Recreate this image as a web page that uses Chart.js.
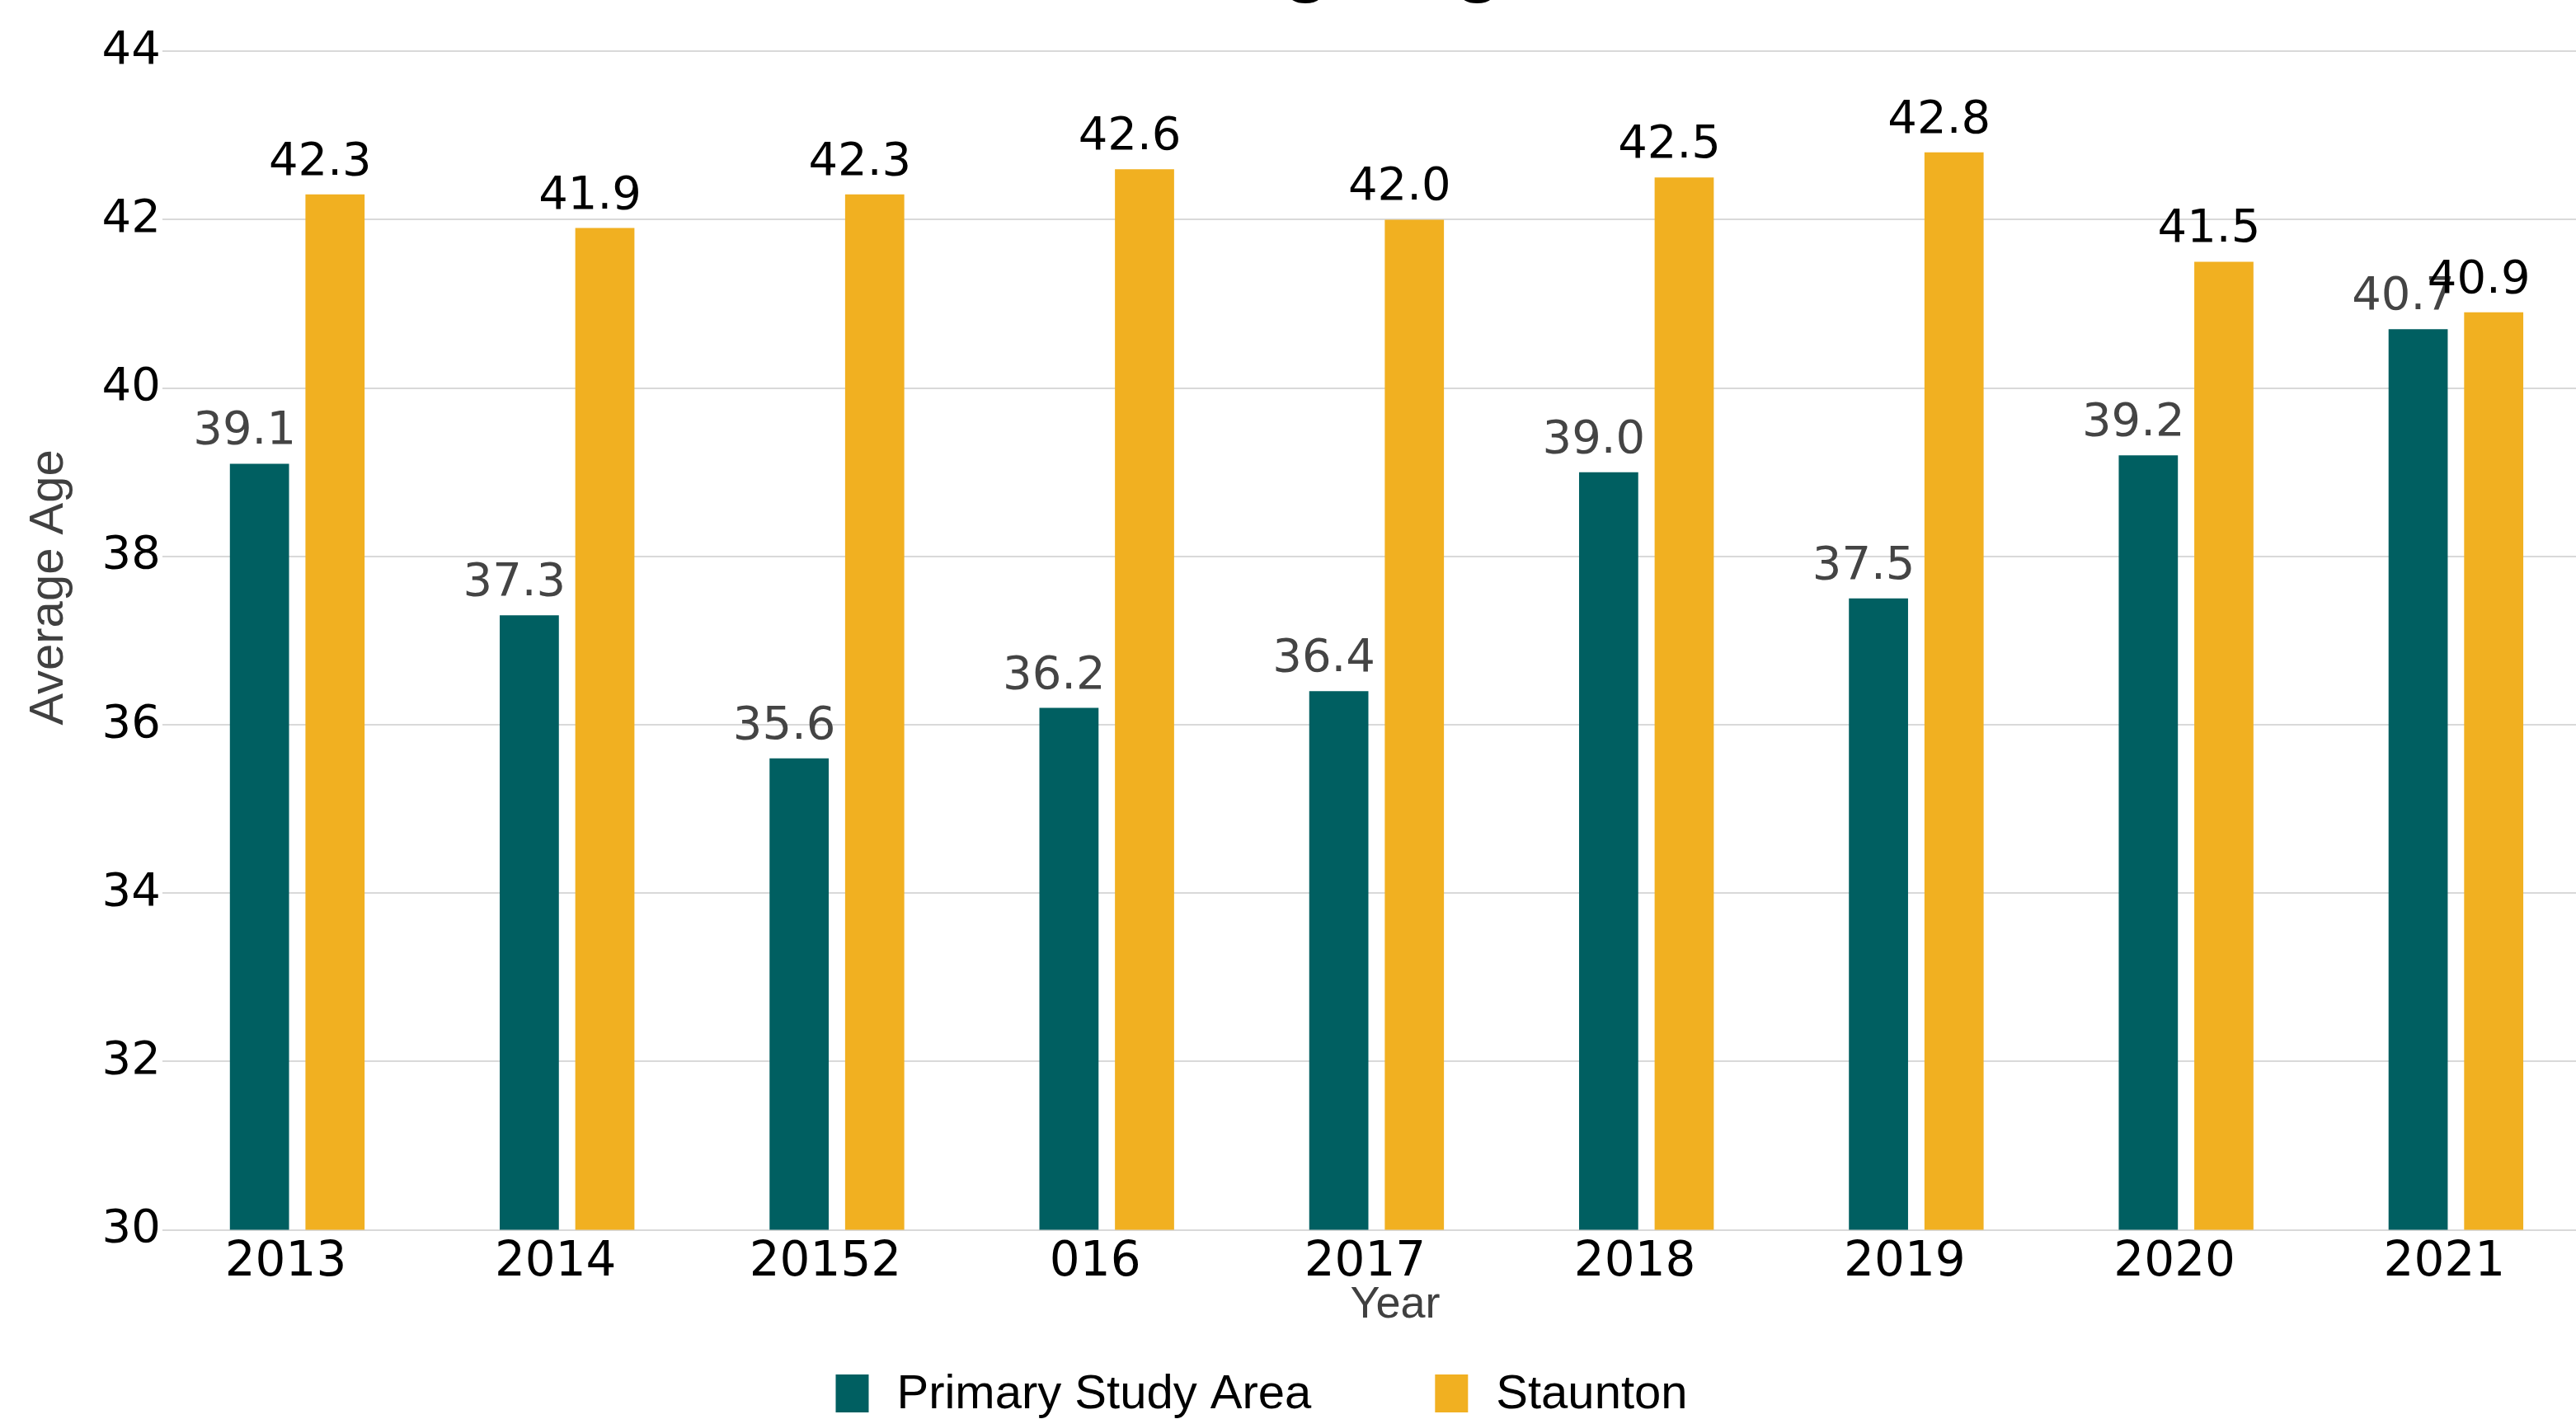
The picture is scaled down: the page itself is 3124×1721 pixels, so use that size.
<!DOCTYPE html>
<html>
<head>
<meta charset="utf-8">
<script src="https://cdn.jsdelivr.net/npm/chart.js@4"></script>
<style>
  html, body { margin: 0; padding: 0; background: #fff; overflow: hidden; }
  #wrap { position: relative; width: 3124px; height: 1721px; overflow: hidden; }
  #grafico { position: absolute; left: 0; top: -100px; }
</style>
</head>
<body>
<div id="wrap"><canvas id="grafico" width="3142" height="1821"></canvas></div>
<script>
const anos = ['2013', '2014', '20152', '016', '2017', '2018', '2019', '2020', '2021'];
const areaPrimaria = [39.1, 37.3, 35.6, 36.2, 36.4, 39.0, 37.5, 39.2, 40.7];
const staunton = [42.3, 41.9, 42.3, 42.6, 42.0, 42.5, 42.8, 41.5, 40.9];
const ticksY = [30, 32, 34, 36, 38, 40, 42, 44];

const fonteTexto = '"Liberation Sans", Arial, sans-serif';
const fonteNum = '"DejaVu Sans", sans-serif';
const corRotulo = ['#444444', '#000000'];

// rotulos de valor em cima das barras
const rotulosValor = {
  id: 'rotulosValor',
  afterDatasetsDraw(chart) {
    const c = chart.ctx;
    chart.data.datasets.forEach((ds, i) => {
      chart.getDatasetMeta(i).data.forEach((barra, j) => {
        c.save();
        c.font = '56px ' + fonteNum;
        c.fillStyle = corRotulo[i];
        c.textAlign = 'center';
        c.textBaseline = 'alphabetic';
        c.fillText(ds.data[j].toFixed(1), barra.x - 18, barra.y - 24);
        c.restore();
      });
    });
  }
};

// legenda desenhada a mao (espacamento igual ao original)
const legendaManual = {
  id: 'legendaManual',
  afterDraw(chart) {
    const c = chart.ctx;
    const ds = chart.data.datasets;
    c.save();
    c.font = '58px ' + fonteTexto;
    c.textBaseline = 'middle';
    const caixaL = 40, caixaA = 46, gapTexto = 34, gapItem = 150;
    const larguras = ds.map(d => c.measureText(d.label).width);
    const total = larguras.reduce((a, b) => a + b, 0) + ds.length * (caixaL + gapTexto) + gapItem * (ds.length - 1);
    let x = 1530 - total / 2;
    const y = chart.height - 31;
    ds.forEach((d, i) => {
      c.fillStyle = d.backgroundColor;
      c.fillRect(x, y - caixaA / 2, caixaL, caixaA);
      c.fillStyle = '#000';
      c.fillText(d.label, x + caixaL + gapTexto, y + 2);
      x += caixaL + gapTexto + larguras[i] + gapItem;
    });
    c.restore();
  }
};

const ctx = document.getElementById('grafico');

let grafico = new Chart(ctx, {
  type: 'bar',
  data: {
    labels: anos,
    datasets: [{
      label: 'Primary Study Area',
      data: areaPrimaria,
      backgroundColor: '#005F61'
    }, {
      label: 'Staunton',
      data: staunton,
      backgroundColor: '#F1B021'
    }]
  },
  options: {
    responsive: false,
    devicePixelRatio: 1,
    animation: false,
    categoryPercentage: 0.56,
    barPercentage: 0.783,
    layout: { padding: { left: 25, right: 0, top: 0, bottom: 105 } },
    plugins: {
      title: {
        display: true,
        text: 'Average Age',
        color: '#000',
        font: { family: fonteTexto, size: 96, weight: 'bold' },
        padding: { top: 0, bottom: 47 }
      },
      legend: { display: false },
      tooltip: { enabled: false }
    },
    scales: {
      x: {
        grid: { display: false },
        border: { display: false },
        ticks: { color: '#000', font: { family: fonteNum, size: 58 }, padding: -2, maxRotation: 0, labelOffset: -14 },
        title: {
          display: true,
          text: '   Year',
          color: '#404040',
          font: { family: fonteTexto, size: 54 },
          padding: { top: -14, bottom: 0 }
        }
      },
      y: {
        min: 30,
        max: 44,
        afterBuildTicks: (eixo) => { eixo.ticks = ticksY.map(v => ({ value: v })); },
        grid: { color: '#D9D9D9', lineWidth: 2, drawTicks: false },
        border: { display: false },
        ticks: { color: '#000', font: { family: fonteNum, size: 56 }, padding: 2 },
        title: {
          display: true,
          text: '        Average Age',
          color: '#404040',
          font: { family: fonteTexto, size: 58 },
          padding: { top: 0, bottom: 27 }
        }
      }
    }
  },
  plugins: [rotulosValor, legendaManual]
});
</script>
</body>
</html>
